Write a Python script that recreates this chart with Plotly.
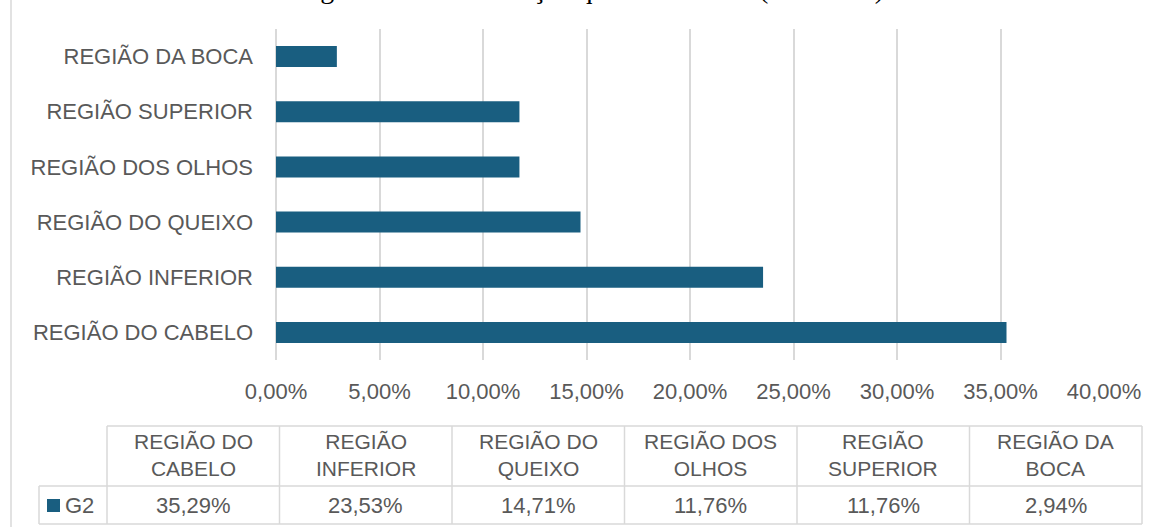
import plotly.graph_objects as go

# ---------------- data ----------------
categories = ["REGIÃO DO CABELO", "REGIÃO INFERIOR", "REGIÃO DO QUEIXO",
              "REGIÃO DOS OLHOS", "REGIÃO SUPERIOR", "REGIÃO DA BOCA"]
table_headers = ["REGIÃO DO<br>CABELO", "REGIÃO<br>INFERIOR", "REGIÃO DO<br>QUEIXO",
                 "REGIÃO DOS<br>OLHOS", "REGIÃO<br>SUPERIOR", "REGIÃO DA<br>BOCA"]
values = [0.3529, 0.2353, 0.1471, 0.1176, 0.1176, 0.0294]
series_name = "G2"
x_ticks = [0.0, 0.05, 0.10, 0.15, 0.20, 0.25, 0.30, 0.35, 0.40]
title_text = "Figura 12 – Distribuição quantitativa G2 (Wernicke)"

# ---------------- style ----------------
W, H = 1152, 527
L, R, T, B = 276, 1104, 29, 360
BAR = "#195e80"
TXT = "#595959"
GRID = "#d9d9d9"
FONT = "Liberation Sans, Arial, sans-serif"


def px(x):
    return (x - L) / (R - L)


def py(y):
    return (B - y) / (B - T)


fig = go.Figure()
fig.add_trace(go.Bar(
    x=values, y=categories, orientation="h", name=series_name,
    marker=dict(color=BAR, line=dict(width=0)),
    showlegend=False, hoverinfo="x+y",
))

shapes = []
annotations = []

# left chart frame line
shapes.append(dict(type="line", xref="paper", yref="paper",
                   x0=px(11), x1=px(11), y0=py(0), y1=py(H),
                   line=dict(color=GRID, width=1.5)))

# ---------------- data table ----------------
tbl_left_key = 39
tbl_left = 107
tbl_right = 1142
col_w = (tbl_right - tbl_left) / len(categories)
y_top, y_mid, y_bot = 426, 486, 524
line_style = dict(color=GRID, width=1.5)

shapes.append(dict(type="line", xref="paper", yref="paper",
                   x0=px(tbl_left), x1=px(tbl_right), y0=py(y_top), y1=py(y_top), line=line_style))
for yy in (y_mid, y_bot):
    shapes.append(dict(type="line", xref="paper", yref="paper",
                       x0=px(tbl_left_key), x1=px(tbl_right), y0=py(yy), y1=py(yy), line=line_style))
shapes.append(dict(type="line", xref="paper", yref="paper",
                   x0=px(tbl_left_key), x1=px(tbl_left_key), y0=py(y_mid), y1=py(y_bot), line=line_style))
for i in range(len(categories) + 1):
    xx = tbl_left + i * col_w
    shapes.append(dict(type="line", xref="paper", yref="paper",
                       x0=px(xx), x1=px(xx), y0=py(y_top), y1=py(y_bot), line=line_style))

for i, (hdr, v) in enumerate(zip(table_headers, values)):
    cx = tbl_left + (i + 0.5) * col_w
    annotations.append(dict(xref="paper", yref="paper", x=px(cx), y=py((y_top + y_mid) / 2 - 1),
                            text=hdr, showarrow=False, xanchor="center", yanchor="middle",
                            font=dict(family=FONT, size=21, color=TXT)))
    label = f"{v * 100:.2f}".replace(".", ",") + "%"
    annotations.append(dict(xref="paper", yref="paper", x=px(cx), y=py((y_mid + y_bot) / 2),
                            text=label, showarrow=False, xanchor="center", yanchor="middle",
                            font=dict(family=FONT, size=22, color=TXT)))

# legend key in table
shapes.append(dict(type="rect", xref="paper", yref="paper",
                   x0=px(47), x1=px(60), y0=py(499), y1=py(512),
                   fillcolor=BAR, line=dict(width=0)))
annotations.append(dict(xref="paper", yref="paper", x=px(63), y=py(505),
                        text=series_name, showarrow=False, xanchor="left", yanchor="middle",
                        font=dict(family=FONT, size=22, color=TXT)))

# cut-off caption at the top (as in the reference image)
annotations.append(dict(xref="paper", yref="paper", x=px(590), y=py(-11),
                        text=title_text, showarrow=False, xanchor="center", yanchor="middle",
                        font=dict(family="Liberation Serif, serif", size=28, color="#000000")))

fig.update_layout(
    width=W, height=H,
    margin=dict(l=L, r=W - R, t=T, b=H - B, autoexpand=False),
    paper_bgcolor="white", plot_bgcolor="white",
    separators=",.",
    bargap=0.62,
    shapes=shapes,
    annotations=annotations,
    font=dict(family=FONT, color=TXT),
)
fig.update_xaxes(
    range=[0, 0.40], tickvals=x_ticks, tickformat=".2%",
    showgrid=True, gridcolor=GRID, gridwidth=1.5,
    zeroline=True, zerolinecolor=GRID, zerolinewidth=1.5,
    showline=False, ticks="", automargin=False,
    tickfont=dict(family=FONT, size=22, color=TXT),
    ticklabelstandoff=16, fixedrange=True,
)
fig.update_yaxes(
    categoryorder="array", categoryarray=categories,
    showgrid=False, zeroline=False, showline=False, ticks="", automargin=False,
    tickfont=dict(family=FONT, size=22, color=TXT),
    ticklabelstandoff=22, fixedrange=True,
)

fig.write_html("out.html", config={"displayModeBar": False},
               post_script="document.body.style.margin='0px';")
